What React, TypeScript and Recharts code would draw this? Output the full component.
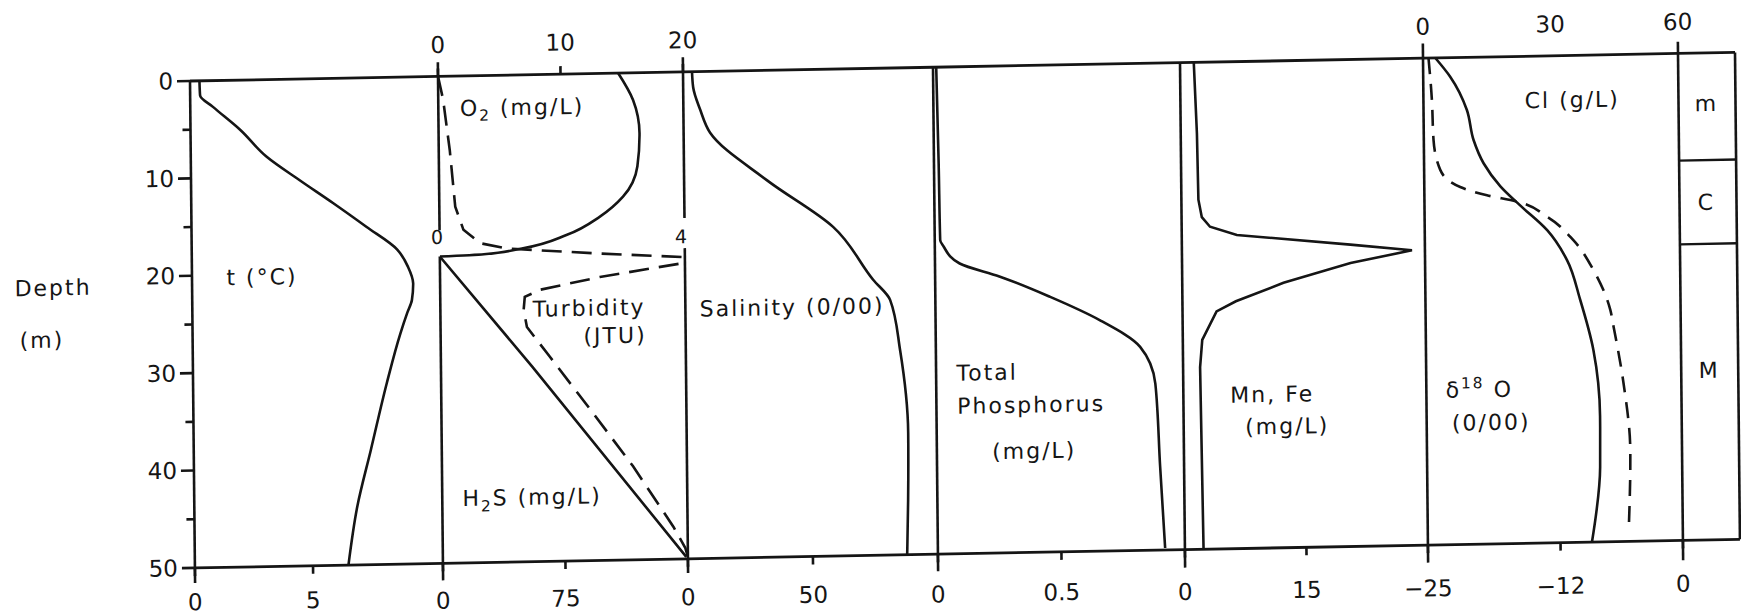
import React from "react";
import { ScatterChart, Scatter, XAxis, YAxis, ReferenceLine } from "recharts";

// Profiles are [depth (m), value] pairs, top of the water column first.
const temperature: [number, number][] = [
  [0, 0.4], [1.5, 0.42], [2.7, 0.96], [5.1, 2.1], [7.9, 3.2], [10.4, 4.6],
  [12.8, 6.0], [15.3, 7.4], [17.7, 8.7], [19.5, 9.15], [21.2, 9.36], [22.9, 9.3],
  [24.2, 9.1], [26.3, 8.8], [31.4, 8.2], [38.2, 7.5], [44, 6.9], [50, 6.5],
];

const oxygen: [number, number][] = [
  [0, 14.7], [2.8, 15.9], [6.2, 16.4], [9.6, 16.2], [12.7, 15.0], [14.7, 13.1],
  [16.5, 10.4], [17.8, 6.8], [18.35, 3.6], [18.5, 0],
];

const sulfide: [number, number][] = [[18.5, 0], [30, 56], [49.8, 149]];

const turbidity: [number, number][] = [
  [0, 0], [2.4, 0.08], [7.6, 0.18], [13.4, 0.26], [15.8, 0.39], [17.2, 0.66],
  [17.8, 1.09], [18.5, 2.62], [19.0, 3.95], [19.65, 3.95], [20.9, 2.61],
  [22.1, 1.63], [22.8, 1.38], [24.1, 1.36], [25.9, 1.41], [29.0, 1.78],
  [34.9, 2.48], [40.4, 3.12], [46.7, 3.77], [48.9, 3.96], [49.8, 4.0],
];

const salinity: [number, number][] = [
  [0, 3.6], [1.6, 4.0], [3.9, 6.7], [6.3, 10.6], [11.3, 33.2], [16.2, 59.4],
  [21.7, 75.2], [23.8, 81.9], [29, 85.7], [37.5, 88.6], [44.4, 88.3], [50, 87.7],
];

const phosphorus: [number, number][] = [
  [0, 0.013], [10, 0.019], [17.75, 0.022], [18.4, 0.035], [20.2, 0.1],
  [21.6, 0.26], [23.8, 0.465], [26.3, 0.666], [29.1, 0.827], [32.9, 0.887],
  [41.4, 0.903], [49.8, 0.92],
];

const manganeseIron: [number, number][] = [
  [0, 1.7], [7.3, 2.0], [14.1, 2.1], [15.9, 2.5], [16.9, 3.5], [17.8, 6.8],
  [19.0, 20.8], [19.7, 28.4], [20.9, 20.8], [22.8, 12.5], [24.6, 6.6],
  [25.6, 4.2], [28.5, 2.4], [31.3, 2.1], [50, 2.3],
];

const chloride: [number, number][] = [
  [0, 2.9], [1.95, 6.35], [5.4, 10.2], [8.5, 11.7], [10.9, 14.0], [13.3, 17.9],
  [15.3, 22.5], [17.9, 28.8], [21.0, 33.4], [25.1, 36.4], [30.3, 39.4],
  [37.1, 40.8], [42.3, 40.7], [50, 38.6],
];

const oxygen18: [number, number][] = [
  [0, -24.46], [4.3, -24.17], [8.4, -24.05], [11.5, -23.42], [13.3, -21.48],
  [14.2, -18.87], [14.9, -15.93], [16.5, -13.01], [19.0, -10.42], [22.1, -8.49],
  [26.2, -6.89], [27.9, -6.59], [33.8, -5.66], [40.6, -5.07], [49.0, -5.31],
];

const depthTicks = [0, 5, 10, 15, 20, 25, 30, 35, 40, 45, 50];

// mixolimnion / chemocline / monimolimnion boundaries (m)
const layerBreaks = [11, 19.6];
const layerNames = ["m", "C", "M"];

const INK = "#151515";
const FONT = '"DejaVu Sans", "Liberation Sans", sans-serif';

// plot geometry
const PLOT_H = 487;
const AXIS_H = 30;
const MARGIN = 30;
const SIDE = 30;
const FRAME_X = 190;
const FRAME_Y = 81;
const DEPTH_AXIS_W = 60;

const CURVE_W = 2.6;
const RULE_W = 2.6;

type AxisId = "bottom" | "top" | "extra";
type AxisSpec = { domain: [number, number]; ticks?: number[]; tickLine?: boolean; margin?: number };
type SeriesSpec = { rows: [number, number][]; axis: AxisId; dash?: string; curve: "monotoneY" | "linear" };
type RuleSpec = { axis: AxisId; x: number; from: number; to: number };
type PanelSpec = {
  id: string;
  u0: number;
  width: number;
  bottom: AxisSpec;
  top?: AxisSpec;
  extra?: AxisSpec;
  series: SeriesSpec[];
  rules: RuleSpec[];
  depthAxis?: boolean;
  bottomAxisVisible?: boolean;
};

const toPoints = (rows: [number, number][]) => rows.map(([depth, value]) => ({ depth, value }));

const panels: PanelSpec[] = [
  {
    id: "t",
    u0: 0,
    width: 248,
    depthAxis: true,
    bottom: { domain: [0, 10.5], ticks: [0, 5], margin: 18 },
    series: [{ rows: temperature, axis: "bottom", curve: "monotoneY" }],
    rules: [{ axis: "bottom", x: 0, from: 0, to: 51.55 }],
  },
  {
    id: "o2",
    u0: 248,
    width: 245,
    top: { domain: [0, 20], ticks: [0, 10, 20], tickLine: true },
    bottom: { domain: [0, 150], ticks: [0, 75], margin: 21 },
    extra: { domain: [0, 4] },
    series: [
      { rows: oxygen, axis: "top", curve: "monotoneY" },
      { rows: sulfide, axis: "bottom", curve: "linear" },
      { rows: turbidity, axis: "extra", curve: "linear", dash: "20 10" },
    ],
    rules: [
      { axis: "top", x: 0, from: -1.45, to: 15.8 },
      { axis: "top", x: 0, from: 18.5, to: 51.75 },
      { axis: "top", x: 20, from: -1.5, to: 15.0 },
      { axis: "top", x: 20, from: 18.1, to: 51.45 },
    ],
  },
  {
    id: "sal",
    u0: 493,
    width: 250,
    bottom: { domain: [0, 100], ticks: [0, 50], margin: 22 },
    series: [{ rows: salinity, axis: "bottom", curve: "monotoneY" }],
    rules: [],
  },
  {
    id: "tp",
    u0: 743,
    width: 247,
    bottom: { domain: [0, 1], ticks: [0, 0.5], margin: 24 },
    series: [{ rows: phosphorus, axis: "bottom", curve: "monotoneY" }],
    rules: [{ axis: "bottom", x: 0, from: 0, to: 51.75 }],
  },
  {
    id: "mn",
    u0: 990,
    width: 243,
    bottom: { domain: [0, 30], ticks: [0, 15], margin: 26 },
    series: [{ rows: manganeseIron, axis: "bottom", curve: "linear" }],
    rules: [{ axis: "bottom", x: 0, from: 0, to: 51.85 }],
  },
  {
    id: "iso",
    u0: 1233,
    width: 255,
    top: { domain: [0, 60], ticks: [0, 30, 60], tickLine: false },
    bottom: { domain: [-25, 0], ticks: [-25, -12, 0], margin: 27 },
    series: [
      { rows: chloride, axis: "top", curve: "monotoneY" },
      { rows: oxygen18, axis: "bottom", curve: "monotoneY", dash: "16 10" },
    ],
    rules: [{ axis: "bottom", x: -25, from: -1.5, to: 51.8 }],
  },
  {
    id: "layers",
    u0: 1488,
    width: 57,
    bottom: { domain: [0, 1] },
    bottomAxisVisible: false,
    series: [],
    rules: [
      { axis: "bottom", x: 0, from: -1.2, to: 52.05 },
      { axis: "bottom", x: 1, from: 0, to: 50 },
    ],
  },
];

const noMarker = () => <g />;

const fmt = (v: number) => (v < 0 ? `\u2212${-v}` : String(v));

function DepthTick(props: any) {
  const { x, y, payload } = props;
  const major = payload.value % 10 === 0;
  return (
    <g>
      <line x1={x} y1={y} x2={x - (major ? 13 : 8)} y2={y} stroke={INK} strokeWidth={RULE_W} />
      {major && (
        <text x={x - 17} y={y} textAnchor="end" dominantBaseline="central" fill={INK} fontSize={23} fontFamily={FONT}>
          {payload.value}
        </text>
      )}
    </g>
  );
}

const tickStyle = { fill: INK, fontSize: 23, fontFamily: FONT };

function Panel({ spec }: { spec: PanelSpec }) {
  const leftPad = spec.depthAxis ? DEPTH_AXIS_W : 0;
  const showBottom = spec.bottomAxisVisible !== false;
  const top = spec.top ?? { domain: spec.bottom.domain };
  return (
    <div style={{ position: "absolute", left: FRAME_X + spec.u0 - leftPad - SIDE, top: FRAME_Y - MARGIN - AXIS_H }}>
      <ScatterChart
        width={spec.width + leftPad + 2 * SIDE}
        height={PLOT_H + 2 * (MARGIN + AXIS_H)}
        margin={{ top: MARGIN, bottom: MARGIN, left: SIDE, right: SIDE }}
      >
        <XAxis
          xAxisId="bottom"
          orientation="bottom"
          type="number"
          dataKey="value"
          height={AXIS_H}
          domain={spec.bottom.domain}
          allowDataOverflow
          ticks={spec.bottom.ticks}
          interval={0}
          axisLine={false}
          tick={showBottom && spec.bottom.ticks ? tickStyle : false}
          tickLine={showBottom && spec.bottom.ticks ? { stroke: INK, strokeWidth: RULE_W } : false}
          tickSize={8}
          tickMargin={spec.bottom.margin ?? 20}
          tickFormatter={fmt}
        />
        <XAxis
          xAxisId="top"
          orientation="top"
          type="number"
          dataKey="value"
          height={AXIS_H}
          domain={top.domain}
          allowDataOverflow
          ticks={top.ticks}
          interval={0}
          axisLine={false}
          tick={top.ticks ? tickStyle : false}
          tickLine={top.tickLine ? { stroke: INK, strokeWidth: RULE_W } : false}
          tickSize={8}
          tickMargin={15.6}
        />
        {spec.extra && (
          <XAxis xAxisId="extra" hide type="number" dataKey="value" domain={spec.extra.domain} allowDataOverflow />
        )}
        <YAxis
          yAxisId="depth"
          type="number"
          dataKey="depth"
          domain={[0, 50]}
          reversed
          allowDataOverflow
          hide={!spec.depthAxis}
          width={DEPTH_AXIS_W}
          ticks={depthTicks}
          interval={0}
          axisLine={false}
          tickLine={false}
          tickSize={0}
          tickMargin={0}
          tick={<DepthTick />}
        />

        {/* frame */}
        <ReferenceLine xAxisId="bottom" yAxisId="depth" y={0} stroke={INK} strokeWidth={2.8} />
        <ReferenceLine xAxisId="bottom" yAxisId="depth" y={50} stroke={INK} strokeWidth={2.8} />
        {spec.rules.map((r, i) => (
          <ReferenceLine
            key={`rule-${i}`}
            xAxisId={r.axis}
            yAxisId="depth"
            segment={[{ x: r.x, y: r.from }, { x: r.x, y: r.to }]}
            ifOverflow="visible"
            stroke={INK}
            strokeWidth={RULE_W}
          />
        ))}
        {spec.id === "layers" &&
          layerBreaks.map((d) => (
            <ReferenceLine key={`layer-${d}`} xAxisId="bottom" yAxisId="depth" y={d} stroke={INK} strokeWidth={2.4} />
          ))}

        {spec.series.map((s, i) => (
          <Scatter
            key={`${spec.id}-${i}`}
            data={toPoints(s.rows)}
            xAxisId={s.axis}
            yAxisId="depth"
            line={{ stroke: INK, strokeWidth: CURVE_W, strokeDasharray: s.dash }}
            lineJointType={s.curve}
            shape={noMarker}
            isAnimationActive={false}
          />
        ))}
      </ScatterChart>
    </div>
  );
}

function Note({ u, v, size = 22, children }: { u: number; v: number; size?: number; children: React.ReactNode }) {
  return (
    <div
      style={{
        position: "absolute",
        left: FRAME_X + u,
        top: FRAME_Y + v,
        transform: "translate(-50%, -50%)",
        fontFamily: FONT,
        fontSize: size,
        letterSpacing: 2,
        lineHeight: 1,
        whiteSpace: "nowrap",
        color: INK,
      }}
    >
      {children}
    </div>
  );
}

const Sub = ({ children }: { children: React.ReactNode }) => (
  <span style={{ position: "relative", top: "0.35em", fontSize: "0.7em" }}>{children}</span>
);
const Sup = ({ children }: { children: React.ReactNode }) => (
  <span style={{ position: "relative", top: "-0.55em", fontSize: "0.7em" }}>{children}</span>
);

export default function App() {
  return (
    <div style={{ position: "absolute", left: 0, top: 0, width: 1741, height: 614, overflow: "hidden", background: "#fff" }}>
      <div
        style={{
          position: "absolute",
          left: 0,
          top: 0,
          width: 1741,
          height: 614,
          transform: "skewY(-1.06deg) skewX(0.58deg)",
          transformOrigin: `${FRAME_X}px ${FRAME_Y}px`,
        }}
      >
        {panels.map((p) => (
          <Panel key={p.id} spec={p} />
        ))}

        <Note u={-139} v={204.5} size={22}>Depth</Note>
        <Note u={-150.6} v={257.3} size={22}>(m)</Note>

        <Note u={70} v={198.3}>t (°C)</Note>
        <Note u={331.7} v={33.1}>
          O<Sub>2</Sub> (mg/L)
        </Note>
        <Note u={246.4} v={160.6} size={19}>0</Note>
        <Note u={490.4} v={165.1} size={19}>4</Note>
        <Note u={396.7} v={235.4}>Turbidity</Note>
        <Note u={422.4} v={262.9}>(JTU)</Note>
        <Note u={337.8} v={423.3}>
          H<Sub>2</Sub>S (mg/L)
        </Note>
        <Note u={599.7} v={238.1}>Salinity (0/00)</Note>
        <Note u={794} v={306.7}>Total</Note>
        <Note u={837.7} v={339.6}>Phosphorus</Note>
        <Note u={840.3} v={385.6}>(mg/L)</Note>
        <Note u={1078.8} v={334}>Mn, Fe</Note>
        <Note u={1093.5} v={366.3}>(mg/L)</Note>
        <Note u={1285.9} v={332.8}>
          δ<Sup>18</Sup> O
        </Note>
        <Note u={1297.5} v={366}>(0/00)</Note>
        <Note u={1381.8} v={44.6}>Cl (g/L)</Note>

        <Note u={1515.8} v={51}>{layerNames[0]}</Note>
        <Note u={1514.8} v={150}>{layerNames[1]}</Note>
        <Note u={1516} v={318}>{layerNames[2]}</Note>
      </div>
    </div>
  );
}
